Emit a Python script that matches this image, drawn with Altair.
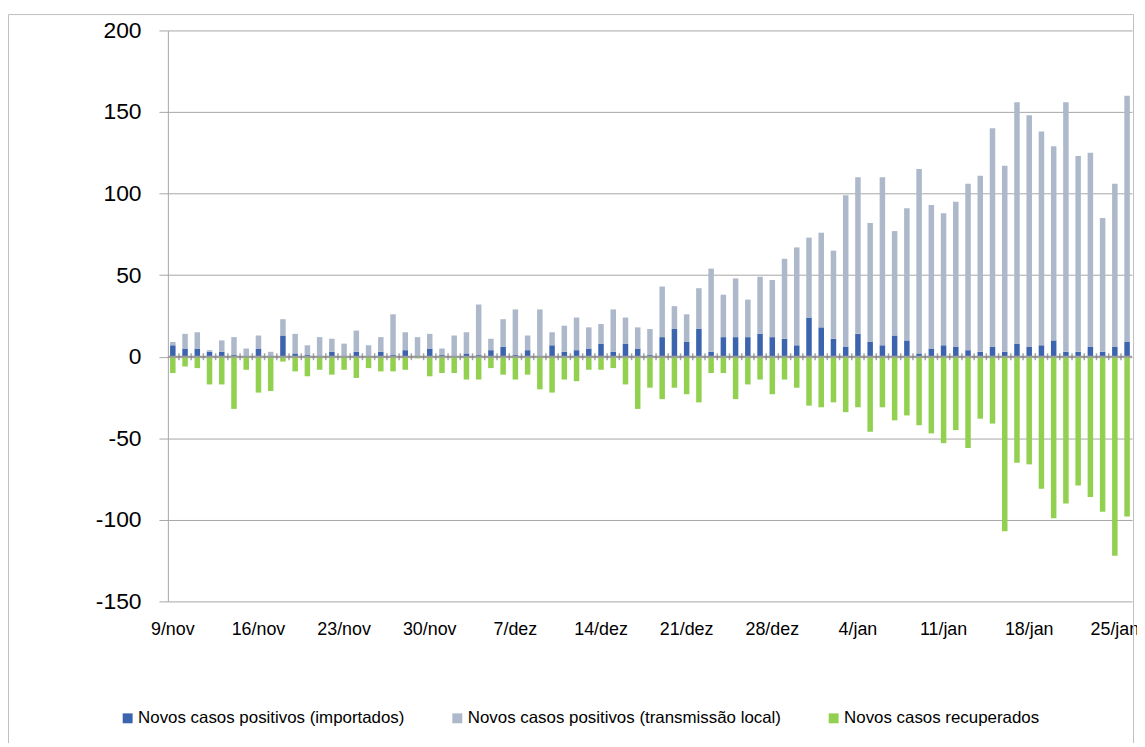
import altair as alt
import pandas as pd

# ---- categories -------------------------------------------------------------
start_day = "2020-11-09"
n_days = 79
months_pt = {11: "nov", 12: "dez", 1: "jan"}
dates = pd.date_range(start_day, periods=n_days, freq="D")
day_labels = [f"{d.day}/{months_pt[d.month]}" for d in dates]
axis_labels = day_labels[::7]

series_names = [
    "Novos casos positivos (importados)",
    "Novos casos positivos (transmissão local)",
    "Novos casos recuperados",
]
series_colors = ["#3C64AE", "#ADB9CA", "#92D050"]

# ---- values ------------------------------------------------------------------
imported = [7, 5, 5, 3, 3, 1, 0, 5, 0, 13,
            2, 1, 0, 3, 0, 3, 0, 3, 1, 4,
            0, 5, 1, 0, 2, 1, 4, 6, 1, 4,
            0, 7, 3, 4, 5, 8, 3, 8, 5, 1,
            12, 17, 9, 17, 3, 12, 12, 12, 14, 12,
            11, 7, 24, 18, 11, 6, 14, 9, 7, 13,
            10, 2, 5, 7, 6, 4, 3, 6, 3, 8,
            6, 7, 10, 3, 3, 6, 3, 6, 9]

local = [2, 9, 10, 1, 7, 11, 5, 8, 3, 10,
         12, 6, 12, 8, 8, 13, 7, 9, 25, 11,
         12, 9, 4, 13, 13, 31, 7, 17, 28, 9,
         29, 8, 16, 20, 13, 12, 26, 16, 13, 16,
         31, 14, 17, 25, 51, 26, 36, 23, 35, 35,
         49, 60, 49, 58, 54, 93, 96, 73, 103, 64,
         81, 113, 88, 81, 89, 102, 108, 134, 114, 148,
         142, 131, 119, 153, 120, 119, 82, 100, 151]

recovered = [-10, -6, -7, -17, -17, -32, -8, -22, -21, -3,
             -9, -12, -8, -11, -8, -13, -7, -9, -9, -8,
             -1, -12, -10, -10, -14, -14, -7, -11, -14, -11,
             -20, -22, -14, -15, -8, -8, -7, -17, -32, -19,
             -26, -19, -23, -28, -10, -10, -26, -17, -14, -23,
             -14, -19, -30, -31, -28, -34, -31, -46, -31, -39,
             -36, -42, -47, -53, -45, -56, -38, -41, -107, -65,
             -66, -81, -99, -90, -79, -86, -95, -122, -98]

y_ticks = [-150, -100, -50, 0, 50, 100, 150, 200]

# ---- long table -------------------------------------------------------------
rows = []
for k, (name, vals) in enumerate(zip(series_names, [imported, local, recovered])):
    for lab, v in zip(day_labels, vals):
        rows.append({"dia": lab, "serie": name, "valor": v, "ordem": k})
df = pd.DataFrame(rows)

tick_df = pd.DataFrame({"dia": day_labels[1:]})

FONT = "Liberation Sans"
GRID = "#a6a6a6"

x_scale = alt.Scale(paddingInner=0.55, paddingOuter=0.18)

bars = alt.Chart(df).mark_bar().encode(
    x=alt.X(
        "dia:O",
        sort=day_labels,
        scale=x_scale,
        axis=alt.Axis(
            values=axis_labels,
            labelAngle=0,
            domain=False,
            ticks=False,
            tickSize=0,
            labelPadding=19,
            labelFontSize=18,
            labelFont=FONT,
            labelColor="black",
            title=None,
        ),
    ),
    y=alt.Y(
        "valor:Q",
        stack="zero",
        scale=alt.Scale(domain=[-150, 200], nice=False, zero=True),
        axis=alt.Axis(
            values=y_ticks,
            labelExpr="toString(datum.value)",
            grid=True,
            gridColor=GRID,
            gridWidth=1,
            domainColor=GRID,
            tickColor=GRID,
            tickSize=9,
            labelPadding=18,
            labelFontSize=23,
            labelFont=FONT,
            labelColor="black",
            title=None,
        ),
    ),
    color=alt.Color(
        "serie:N",
        scale=alt.Scale(domain=series_names, range=series_colors),
        legend=alt.Legend(
            title=None,
            orient="none",
            legendX=-49,
            legendY=684,
            direction="horizontal",
            columns=3,
            columnPadding=44,
            symbolType="square",
            symbolSize=100,
            symbolStrokeWidth=0,
            labelFont=FONT,
            labelFontSize=17,
            labelColor="black",
            labelLimit=0,
            labelOffset=2,
        ),
    ),
    order=alt.Order("ordem:Q"),
)

zero_line = alt.Chart(alt.Data(values=[{"z": 0}])).mark_rule(
    color="#9a9a9a", strokeWidth=2
).encode(y=alt.Y("z:Q"))

ticks = alt.Chart(tick_df).mark_tick(
    orient="vertical", size=7, thickness=1.5, color="#7f7f7f", xOffset=-3.4
).encode(
    x=alt.X("dia:O", sort=day_labels, bandPosition=0),
    y=alt.datum(0),
)

border = alt.Chart(alt.Data(values=[{"b": 1}])).mark_rect(
    fillOpacity=0, stroke="#bfbfbf", strokeWidth=1
).encode(
    x=alt.value(-160.5),
    x2=alt.value(972.5),
    y=alt.value(-16),
    y2=alt.value(740),
)

chart = (
    alt.layer(bars, zero_line, ticks, border)
    .properties(
        width=971,
        height=575,
        padding={"left": 161, "top": 20, "right": 5, "bottom": 140},
        autosize=alt.AutoSizeParams(type="none"),
        background="white",
    )
    .configure_view(strokeWidth=0)
)

chart.save("out.html", embed_options={"renderer": "svg", "actions": False})
